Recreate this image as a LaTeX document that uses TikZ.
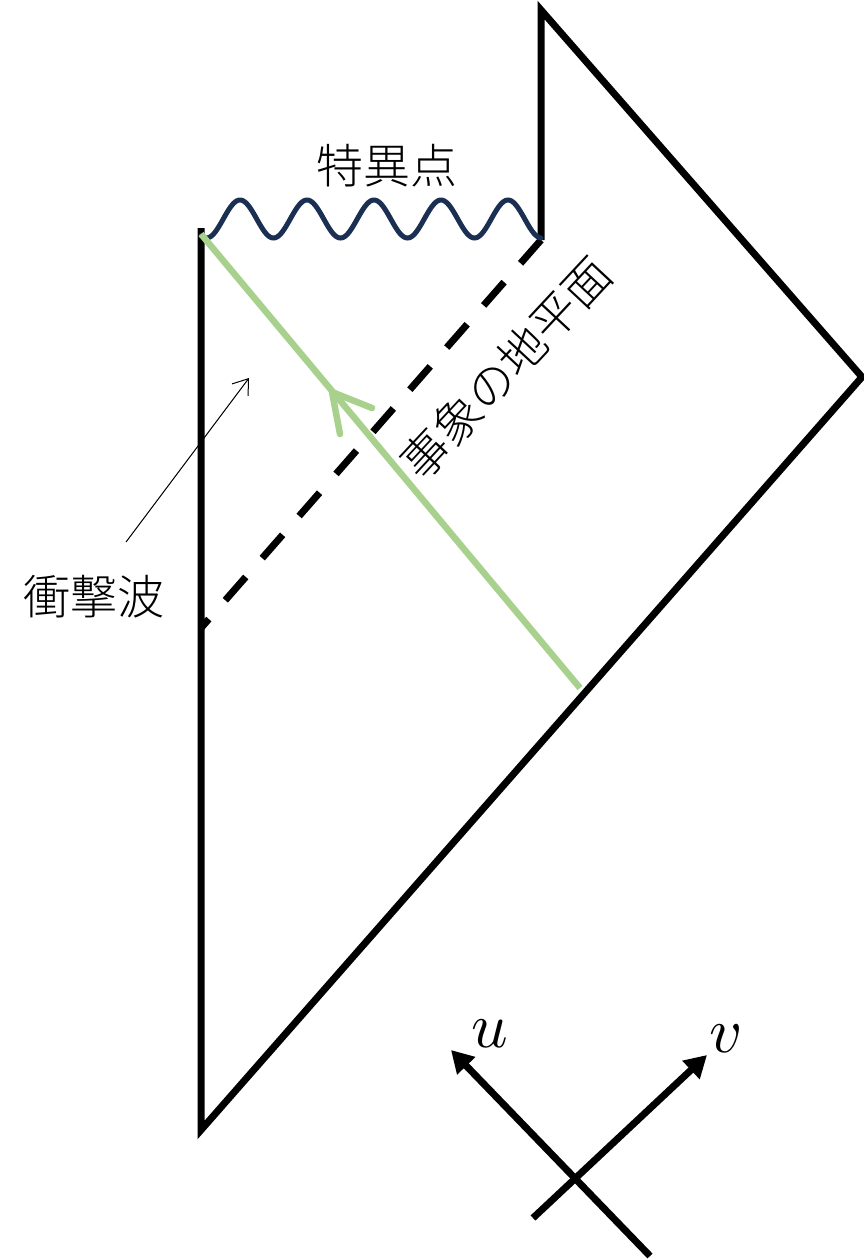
\documentclass[tikz,border=0pt]{standalone}
\usepackage{fontspec}
\IfFontExistsTF{Noto Sans CJK JP Light}{\newfontfamily\cjk{Noto Sans CJK JP Light}}{\newfontfamily\cjk{Noto Sans CJK JP}}
\usetikzlibrary{arrows.meta}
\begin{document}
\begin{tikzpicture}[x=1pt,y=-1pt,
  outline/.style={line width=7pt, line join=miter, black},
  horizon/.style={line width=7pt, black, dash pattern=on 31pt off 25pt},
  wave/.style={line width=5pt, color=wavecol, line cap=round},
  ray/.style={line width=6.5pt, color=raycol},
  axis/.style={line width=7pt, black, -{Triangle[length=22pt,width=24pt]}},
  pointer/.style={line width=1pt, black, -{Straight Barb[length=14pt,width=20pt]}},
  jp/.style={font=\cjk\fontsize{47}{50}\selectfont, inner sep=0pt}]
\definecolor{wavecol}{HTML}{1B2F52}
\definecolor{raycol}{HTML}{A9D18E}
\useasboundingbox (0,0) rectangle (864,1260);
\coordinate (TL) at (201,228);
\coordinate (BL) at (201,1130);
\coordinate (R) at (862,377);
\coordinate (T) at (541,10);
\coordinate (TB) at (541,240);
\coordinate (SH) at (201,628);
\draw[outline] (TL) -- (BL) -- (R) -- (T) -- (TB);
\draw[horizon] (TB) -- (SH);
\draw[wave] plot[domain=201:541, samples=240] (\x, {219-19*cos(5.37313*(\x-240))});
\coordinate (GS) at (201,234);
\coordinate (GE) at (580,688);
\coordinate (GT) at (332,392);
\coordinate (GA) at (372,408);
\coordinate (GB) at (340,434);
\draw[ray] (GE) -- (GS);
\draw[ray, line cap=round, line join=round] (GA) -- (GT) -- (GB);
\node[jp] (sing) at (387,166) {特異点};
\node[jp, rotate=47] (hor) at (506,368) {事象の地平面};
\node[jp] (shock) at (94,597) {衝撃波};
\coordinate (PT) at (126,542);
\coordinate (PH) at (249,378);
\draw[pointer] (PT) -- (PH);
\coordinate (U0) at (650,1256);
\coordinate (U1) at (451,1050);
\coordinate (V0) at (533,1218);
\coordinate (V1) at (707,1055);
\draw[axis] (U0) -- (U1);
\draw[axis] (V0) -- (V1);
\node[scale=6.4] (ul) at (490,1034) {$u$};
\node[scale=6.4] (vl) at (726,1039) {$v$};
\end{tikzpicture}
\end{document}
